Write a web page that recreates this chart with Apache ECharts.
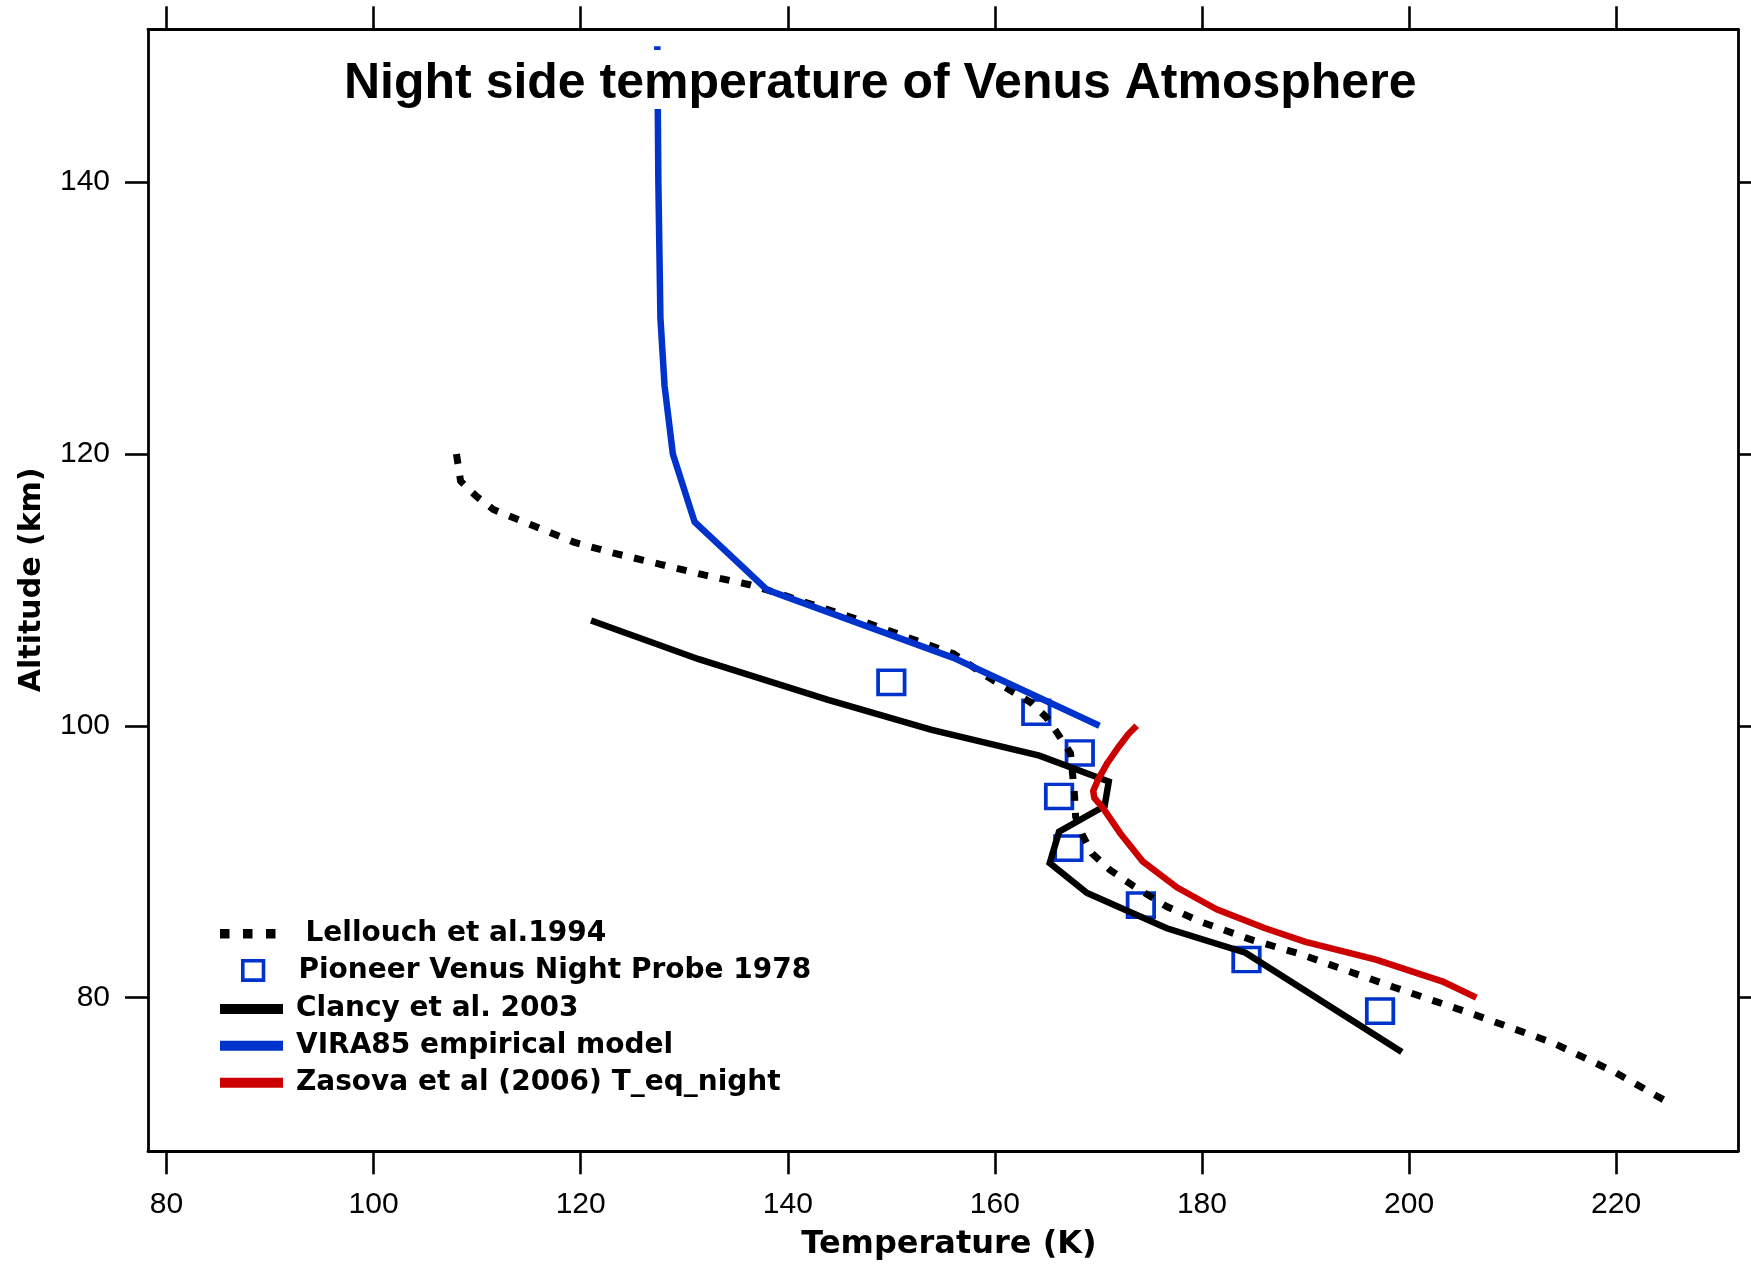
<!DOCTYPE html>
<html>
<head>
<meta charset="utf-8">
<script src="https://cdn.jsdelivr.net/npm/echarts@6/dist/echarts.min.js"></script>
<style>
html,body{margin:0;padding:0;background:#fff;}
#chart{width:1751px;height:1266px;}
</style>
</head>
<body>
<div id="chart"></div>
<script>
// ---- data (Temperature K, Altitude km) ----
const xTickValues = [80, 100, 120, 140, 160, 180, 200, 220];
const yTickValues = [80, 100, 120, 140];

const lellouchT   = [108.0, 108.4, 109.9, 111.6, 115.5, 119.4, 123.2, 127.6, 131.9, 136.2, 138.0, 145.7, 156.0, 159.3, 163.5, 165.0, 166.0, 167.3, 167.5, 167.7, 167.8, 168.5, 169.4, 171.1, 173.4, 176.6, 179.8, 184.6, 189.5, 194.3, 198.4, 206.3, 213.8, 219.9, 225.0];
const lellouchAlt = [120.0, 118.0, 116.9, 115.9, 114.7, 113.5, 112.7, 111.9, 111.1, 110.4, 110.0, 108.1, 105.3, 103.6, 101.7, 100.6, 99.5, 98.0, 96.5, 94.8, 93.3, 91.9, 90.6, 89.4, 88.2, 86.7, 85.6, 84.3, 83.2, 81.9, 80.8, 78.75, 76.7, 74.5, 72.3];

const pioneerT   = [150.0, 164.0, 168.2, 166.2, 167.1, 174.1, 184.3, 197.2];
const pioneerAlt = [103.2, 101.0, 98.0, 94.8, 91.0, 86.8, 82.8, 79.0];

const clancyT   = [121.0, 131.4, 143.9, 153.9, 164.3, 171.0, 170.6, 166.2, 165.3, 168.9, 176.6, 184.2, 199.3];
const clancyAlt = [107.75, 104.9, 101.9, 99.7, 97.8, 95.9, 94.1, 92.2, 89.9, 87.7, 85.1, 83.3, 76.0];

const viraT   = [127.4, 127.5, 127.7, 128.1, 128.9, 131.0, 138.0, 156.0, 170.1];
const viraAlt = [150, 140, 130, 125, 120, 115, 110, 105, 100];

const zasovaT   = [173.7, 172.9, 172.0, 170.9, 170.0, 169.5, 169.6, 170.4, 172.1, 174.3, 177.6, 181.4, 186.1, 190.0, 196.8, 203.2, 206.5];
const zasovaAlt = [100.0, 99.4, 98.5, 97.3, 96.1, 95.2, 94.7, 94.0, 92.1, 90.0, 88.1, 86.5, 85.1, 84.1, 82.8, 81.2, 80.0];

const names = ['Lellouch et al.1994', 'Pioneer Venus Night Probe 1978', 'Clancy et al. 2003', 'VIRA85 empirical model', 'Zasova et al (2006) T_eq_night'];

function pairs(xs, ys) { return xs.map((x, i) => [x, ys[i]]); }

const BLUE = '#0033cc', RED = '#cc0000', BLACK = '#000000';
const sansF = '"Liberation Sans", Arial, sans-serif';
const boldF = '"DejaVu Sans", sans-serif';

const chart = echarts.init(document.getElementById('chart'), null, {renderer: 'canvas'});

function baseAxis(extra) {
  return Object.assign({
    type: 'value',
    splitLine: {show: false},
    axisLine: {show: true, onZero: false, lineStyle: {color: BLACK, width: 2.8}},
  }, extra);
}

const legendText = (pad) => ({fontFamily: boldF, fontWeight: 'bold', fontSize: 28, color: BLACK, padding: [0, 0, 0, pad]});

const option = {
  animation: false,
  backgroundColor: '#ffffff',
  title: {
    text: 'Night side temperature of Venus Atmosphere',
    left: 336, top: 51.7,
    padding: [9, 8, 0, 8],
    backgroundColor: '#ffffff',
    textStyle: {fontFamily: sansF, fontWeight: 'bold', fontSize: 50, lineHeight: 46.6, color: BLACK}
  },
  grid: {left: 148, right: 13, top: 29.3, bottom: 114.7, containLabel: false},
  xAxis: [
    baseAxis({
      position: 'bottom', min: 78.21, max: 231.77,
      axisTick: {show: true, inside: false, length: 23, customValues: xTickValues, lineStyle: {color: BLACK, width: 2.6}},
      axisLabel: {show: true, customValues: xTickValues, margin: 38, fontFamily: sansF, fontSize: 30, color: BLACK},
      name: 'Temperature (K)', nameLocation: 'middle', nameGap: 77,
      nameTextStyle: {fontFamily: boldF, fontWeight: 'bold', fontSize: 32, color: BLACK, padding: [0, 0, 0, 12]}
    }),
    baseAxis({
      position: 'top', min: 78.21, max: 231.77,
      axisTick: {show: true, inside: false, length: 23, customValues: xTickValues, lineStyle: {color: BLACK, width: 2.6}},
      axisLabel: {show: false}
    })
  ],
  yAxis: [
    baseAxis({
      position: 'left', min: 68.69, max: 151.25,
      axisTick: {show: true, inside: false, length: 23, customValues: yTickValues, lineStyle: {color: BLACK, width: 2.6}},
      axisLabel: {show: true, customValues: yTickValues, margin: 38, fontFamily: sansF, fontSize: 30, color: BLACK},
      name: 'Altitude (km)', nameLocation: 'middle', nameRotate: 90, nameGap: 101,
      nameTextStyle: {fontFamily: boldF, fontWeight: 'bold', fontSize: 30, color: BLACK, padding: [0, 0, 0, 21]}
    }),
    baseAxis({
      position: 'right', min: 68.69, max: 151.25,
      axisTick: {show: true, inside: false, length: 23, customValues: yTickValues, lineStyle: {color: BLACK, width: 2.6}},
      axisLabel: {show: false}
    })
  ],
  legend: [
    {data: [names[0]], left: 220, top: 919.8, padding: 0, selectedMode: false,
     itemWidth: 55.5, itemHeight: 9.5,
     icon: 'path://M0 0h9.5v9.5H0zM23 0h9.5v9.5H23zM46 0h9.5v9.5H46z',
     itemStyle: {color: BLACK, borderWidth: 0, opacity: 1}, textStyle: legendText(25)},
    {data: [names[1]], left: 241, top: 956.4, padding: 0, selectedMode: false,
     itemWidth: 20.7, itemHeight: 19.4, icon: 'rect',
     itemStyle: {color: 'rgba(0,0,0,0)', borderColor: BLUE, borderWidth: 3.6, opacity: 1}, textStyle: legendText(30)},
    {data: [names[2]], left: 220, top: 995, padding: 0, selectedMode: false,
     itemWidth: 63, itemHeight: 10, icon: 'rect',
     itemStyle: {color: BLACK, borderWidth: 0, opacity: 1}, textStyle: legendText(8)},
    {data: [names[3]], left: 220, top: 1031.7, padding: 0, selectedMode: false,
     itemWidth: 63, itemHeight: 10, icon: 'rect',
     itemStyle: {color: BLUE, borderWidth: 0, opacity: 1}, textStyle: legendText(8)},
    {data: [names[4]], left: 220, top: 1068.7, padding: 0, selectedMode: false,
     itemWidth: 63, itemHeight: 10, icon: 'rect',
     itemStyle: {color: RED, borderWidth: 0, opacity: 1}, textStyle: legendText(8)}
  ],
  series: [
    {
      name: names[1], type: 'scatter', xAxisIndex: 0, yAxisIndex: 0, clip: false,
      symbol: 'rect', symbolSize: [26.5, 24.2], color: BLUE,
      itemStyle: {color: 'rgba(0,0,0,0)', borderColor: BLUE, borderWidth: 3.6, opacity: 1},
      data: pairs(pioneerT, pioneerAlt), z: 2
    },
    {
      name: names[0], type: 'line', xAxisIndex: 0, yAxisIndex: 0, clip: false,
      showSymbol: false, symbol: 'none', color: BLACK,
      lineStyle: {color: BLACK, width: 7, type: [10, 12], cap: 'butt', join: 'miter'},
      data: pairs(lellouchT, lellouchAlt), z: 3
    },
    {
      name: names[2], type: 'line', xAxisIndex: 0, yAxisIndex: 0, clip: false,
      showSymbol: false, symbol: 'none', color: BLACK,
      lineStyle: {color: BLACK, width: 6.5, join: 'miter'},
      data: pairs(clancyT, clancyAlt), z: 4
    },
    {
      name: names[3], type: 'line', xAxisIndex: 0, yAxisIndex: 0, clip: false,
      showSymbol: false, symbol: 'none', color: BLUE,
      lineStyle: {color: BLUE, width: 6.5, join: 'miter'},
      data: pairs(viraT, viraAlt), z: 5
    },
    {
      name: names[4], type: 'line', xAxisIndex: 0, yAxisIndex: 0, clip: false,
      showSymbol: false, symbol: 'none', color: RED,
      lineStyle: {color: RED, width: 6.5, join: 'round'},
      data: pairs(zasovaT, zasovaAlt), z: 5
    }
  ]
};
chart.setOption(option);
</script>
</body>
</html>
